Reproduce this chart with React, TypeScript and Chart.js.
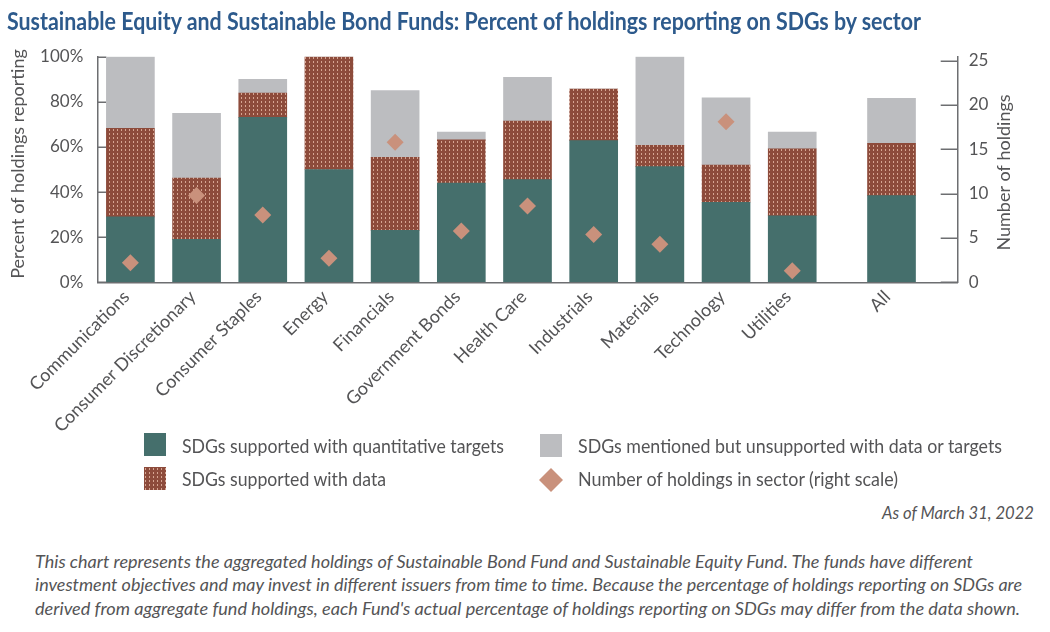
import { useEffect, useLayoutEffect, useMemo, useRef } from 'react';
import { Chart, registerables } from 'chart.js';

Chart.register(...registerables);

// ---- data ----
const sectors = [
  'Communications',
  'Consumer Discretionary',
  'Consumer Staples',
  'Energy',
  'Financials',
  'Government Bonds',
  'Health Care',
  'Industrials',
  'Materials',
  'Technology',
  'Utilities',
  'All',
];
// percent of holdings, per segment
const quantitativeTargets = [29, 19, 73.1, 50, 23, 44, 45.5, 62.8, 51.3, 35.5, 29.5, 38.4];
const supportedWithData = [39.2, 27.2, 10.8, 50, 32.4, 19.2, 26, 22.9, 9.4, 16.5, 29.7, 23.2];
const mentionedOnly = [31.8, 28.7, 6.1, 0, 29.6, 3.4, 19.4, 0, 39.3, 29.8, 7.4, 19.9];
// number of holdings in sector (right scale); none for "All"
const holdingsCount = [2.2, 9.8, 7.6, 2.7, 15.8, 5.8, 8.6, 5.4, 4.3, 18.1, 1.3, null];
const percentTicks = [0, 20, 40, 60, 80, 100];
const holdingsTicks = [0, 5, 10, 15, 20, 25];

const footnote = [
  'This chart represents the aggregated holdings of Sustainable Bond Fund and Sustainable Equity Fund. The funds have different',
  'investment objectives and may invest in different issuers from time to time. Because the percentage of holdings reporting on SDGs are',
  "derived from aggregate fund holdings, each Fund's actual percentage of holdings reporting on SDGs may differ from the data shown.",
];

// ---- styling ----
const FONT = 'Lato, "Open Sans", sans-serif';
const teal = '#456f6c';
const grey = '#bcbdc0';
const brown = '#8d4b3b';
const dot = '#d6a592';
const diamondColor = '#c9917c';
const axisColor = '#6d6e71';
const textColor = '#545456';
const titleColor = '#2d5a8c';

const CANVAS_H = 450;
const AREA = { left: 97.3, right: 957.7, top: 56.7, bottom: 282.3 };

// "All" sits half a slot further right than the sectors
const slot = (i: number) => (i === sectors.length - 1 ? i + 0.5 : i);

function makeTile(): HTMLCanvasElement {
  const c = document.createElement('canvas');
  c.width = 4;
  c.height = 4;
  const g = c.getContext('2d')!;
  g.fillStyle = brown;
  g.fillRect(0, 0, 4, 4);
  g.fillStyle = dot;
  g.fillRect(1, 1, 1, 2);
  return c;
}

const axisDecor = {
  id: 'axisDecor',
  beforeDatasetsDraw(chart: any) {
    const { ctx, chartArea, scales } = chart;
    ctx.save();
    ctx.strokeStyle = axisColor;
    ctx.lineWidth = 1.5;
    scales.y.ticks.forEach((t: any) => {
      const py = Math.round(scales.y.getPixelForValue(t.value)) + 0.25;
      ctx.beginPath();
      ctx.moveTo(chartArea.left, py);
      ctx.lineTo(chartArea.left + 9, py);
      ctx.stroke();
    });
    scales.y1.ticks.forEach((t: any) => {
      const py = Math.round(scales.y1.getPixelForValue(t.value)) + 0.25;
      ctx.beginPath();
      ctx.moveTo(chartArea.right - 17, py);
      ctx.lineTo(chartArea.right, py);
      ctx.stroke();
    });
    ctx.restore();
  },
  afterDraw(chart: any) {
    const { ctx } = chart;
    ctx.save();
    ctx.fillStyle = textColor;
    ctx.font = `18px ${FONT}`;
    ctx.textAlign = 'center';
    ctx.textBaseline = 'middle';
    ctx.translate(18, 164);
    ctx.rotate(-Math.PI / 2);
    ctx.fillText('Percent of holdings reporting', 0, 0);
    ctx.restore();
    ctx.save();
    ctx.fillStyle = textColor;
    ctx.font = `18px ${FONT}`;
    ctx.textAlign = 'center';
    ctx.textBaseline = 'middle';
    ctx.translate(1004, 172.5);
    ctx.rotate(-Math.PI / 2);
    ctx.fillText('Number of holdings', 0, 0);
    ctx.restore();
  },
};

function FitText({
  text,
  left,
  cy,
  width,
  size,
  italic = false,
  bold = false,
  color = textColor,
}: {
  text: string;
  left: number;
  cy: number;
  width: number;
  size: number;
  italic?: boolean;
  bold?: boolean;
  color?: string;
}) {
  const ref = useRef<HTMLSpanElement>(null);
  useLayoutEffect(() => {
    const el = ref.current;
    if (!el) return;
    const fit = () => {
      el.style.transform = 'none';
      const w = el.getBoundingClientRect().width;
      if (w > 0) el.style.transform = `scaleX(${width / w})`;
    };
    fit();
    document.fonts?.ready.then(fit);
  }, [text, width, size]);
  return (
    <span
      ref={ref}
      style={{
        position: 'absolute',
        left,
        top: cy - 0.63 * size,
        display: 'inline-block',
        whiteSpace: 'nowrap',
        transformOrigin: 'left center',
        fontFamily: FONT,
        fontSize: size,
        lineHeight: 1.2,
        fontStyle: italic ? 'italic' : 'normal',
        fontWeight: bold ? 700 : 400,
        color,
      }}
    >
      {text}
    </span>
  );
}

function SdgChart({ tile }: { tile: HTMLCanvasElement }) {
  const canvasRef = useRef<HTMLCanvasElement>(null);
  const chartRef = useRef<Chart | null>(null);

  useEffect(() => {
    if (!canvasRef.current) return;
    if (chartRef.current) chartRef.current.destroy();
    const ctx = canvasRef.current.getContext('2d');
    if (!ctx) return;

    const pattern = ctx.createPattern(tile, 'repeat')!;
    const toPoints = (arr: (number | null)[]) =>
      arr
        .map((v, i) => ({ x: slot(i), y: v }))
        .filter((p) => p.y !== null) as { x: number; y: number }[];

    const tickFont = { family: FONT, size: 17 };

    chartRef.current = new Chart(ctx, {
      type: 'bar',
      data: {
        datasets: [
          {
            type: 'line',
            label: 'Number of holdings in sector (right scale)',
            data: toPoints(holdingsCount),
            yAxisID: 'y1',
            showLine: false,
            pointStyle: 'rectRot',
            pointRadius: 8.5,
            pointBackgroundColor: diamondColor,
            pointBorderWidth: 0,
            order: 0,
          },
          {
            label: 'SDGs supported with quantitative targets',
            data: toPoints(quantitativeTargets),
            backgroundColor: teal,
            barThickness: 48,
            yAxisID: 'y',
            order: 1,
          },
          {
            label: 'SDGs supported with data',
            data: toPoints(supportedWithData),
            backgroundColor: pattern,
            barThickness: 48,
            yAxisID: 'y',
            order: 1,
          },
          {
            label: 'SDGs mentioned but unsupported with data or targets',
            data: toPoints(mentionedOnly),
            backgroundColor: grey,
            barThickness: 48,
            yAxisID: 'y',
            order: 1,
          },
        ] as any,
      },
      options: {
        responsive: true,
        maintainAspectRatio: false,
        animation: false,
        layout: { padding: { top: AREA.top, left: 0, right: 0, bottom: 0 } },
        plugins: {
          legend: { display: false },
          tooltip: { enabled: false },
        },
        scales: {
          x: {
            type: 'linear',
            min: -0.5,
            max: 12.5,
            offset: false,
            bounds: 'data',
            stacked: true,
            afterBuildTicks: (s: any) => {
              s.ticks = sectors.map((_, i) => ({ value: slot(i) }));
            },
            afterFit: (s: any) => {
              s.height = CANVAS_H - AREA.bottom;
              s.paddingLeft = 0;
              s.paddingRight = 0;
            },
            grid: { display: false, drawTicks: false, offset: false },
            border: { display: true, color: axisColor, width: 1.5 },
            ticks: {
              autoSkip: false,
              minRotation: 45,
              maxRotation: 45,
              padding: 4,
              labelOffset: -4,
              color: textColor,
              font: { family: FONT, size: 18 },
              callback: (_v: any, i: number) => sectors[i],
            },
          },
          y: {
            type: 'linear',
            position: 'left',
            min: 0,
            max: 100,
            bounds: 'data',
            stacked: true,
            afterBuildTicks: (s: any) => {
              s.ticks = percentTicks.map((v) => ({ value: v }));
            },
            afterFit: (s: any) => {
              s.width = AREA.left;
              s.paddingTop = 0;
              s.paddingBottom = 0;
            },
            grid: { drawOnChartArea: false, drawTicks: false },
            border: { display: true, color: axisColor, width: 1.5 },
            ticks: {
              padding: 14,
              color: textColor,
              font: tickFont,
              callback: (v: any) => `${v}%`,
            },
          },
          y1: {
            type: 'linear',
            position: 'right',
            min: 0,
            max: 25.45,
            bounds: 'data',
            stacked: false,
            afterBuildTicks: (s: any) => {
              s.ticks = holdingsTicks.map((v) => ({ value: v }));
            },
            afterFit: (s: any) => {
              s.width = 1050 - AREA.right;
              s.paddingTop = 0;
              s.paddingBottom = 0;
            },
            grid: { drawOnChartArea: false, drawTicks: false },
            border: { display: true, color: axisColor, width: 1.5 },
            ticks: {
              padding: 11,
              color: textColor,
              font: tickFont,
            },
          },
        },
      } as any,
      plugins: [axisDecor],
    });

    return () => {
      if (chartRef.current) {
        chartRef.current.destroy();
        chartRef.current = null;
      }
    };
  }, [tile]);

  return (
    <div style={{ position: 'absolute', left: 0, top: 0, width: 1050, height: CANVAS_H }}>
      <canvas ref={canvasRef}></canvas>
    </div>
  );
}

export default function App() {
  const tile = useMemo(() => makeTile(), []);
  const tileUrl = useMemo(() => tile.toDataURL(), [tile]);

  const swatch = (left: number, top: number, bg: React.CSSProperties) => (
    <div style={{ position: 'absolute', left, top, width: 22, height: 23, ...bg }} />
  );

  return (
    <div
      style={{
        position: 'absolute',
        left: 0,
        top: 0,
        width: 1050,
        height: 632,
        background: '#fff',
        overflow: 'hidden',
      }}
    >
      <SdgChart tile={tile} />
      <FitText
        text="Sustainable Equity and Sustainable Bond Funds: Percent of holdings reporting on SDGs by sector"
        left={7}
        cy={21}
        width={914}
        size={25.5}
        bold
        color={titleColor}
      />

      {swatch(144, 432.5, { background: teal })}
      {swatch(144, 467, { backgroundColor: brown, backgroundImage: `url(${tileUrl})` })}
      {swatch(539.5, 433.5, { background: grey })}
      <svg
        style={{ position: 'absolute', left: 538.5, top: 467.5 }}
        width={24}
        height={24}
        viewBox="0 0 24 24"
      >
        <polygon points="12,0 24,12 12,24 0,12" fill={diamondColor} />
      </svg>

      <FitText text="SDGs supported with quantitative targets" left={181.7} cy={446.7} width={322} size={18.4} />
      <FitText text="SDGs supported with data" left={181.7} cy={479.3} width={204} size={18.4} />
      <FitText
        text="SDGs mentioned but unsupported with data or targets"
        left={577.5}
        cy={446.5}
        width={424}
        size={18.4}
      />
      <FitText
        text="Number of holdings in sector (right scale)"
        left={577.5}
        cy={479.5}
        width={320}
        size={18.4}
      />

      <FitText text="As of March 31, 2022" left={882} cy={513} width={152} size={18} italic />

      <FitText text={footnote[0]} left={35} cy={562} width={938} size={18} italic />
      <FitText text={footnote[1]} left={35} cy={585.6} width={987} size={18} italic />
      <FitText text={footnote[2]} left={35} cy={609.3} width={985} size={18} italic />
    </div>
  );
}
